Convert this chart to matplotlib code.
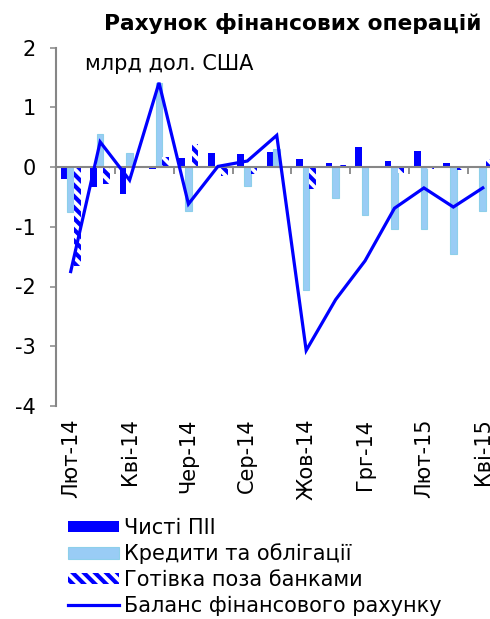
import matplotlib
matplotlib.use("Agg")
import matplotlib.pyplot as plt
from matplotlib.patches import Patch
from matplotlib.lines import Line2D
import numpy as np

months = ['Лют-14', 'Бер-14', 'Кві-14', 'Тра-14', 'Чер-14', 'Лип-14', 'Сер-14', 'Вер-14',
          'Жов-14', 'Лис-14', 'Грг-14', 'Січ-15', 'Лют-15', 'Бер-15', 'Кві-15']
fdi = [-0.20, -0.34, -0.46, -0.03, 0.15, 0.24, 0.21, 0.25, 0.14, 0.07, 0.34, 0.10, 0.27, 0.07, 0.01]
loans = [-0.76, 0.55, 0.23, 1.40, -0.73, 0.0, -0.31, 0.30, -2.06, -0.52, -0.81, -1.04, -1.04, -1.46, -0.74]
cash = [-1.65, -0.28, 0.0, 0.17, 0.38, -0.15, -0.12, 0.0, -0.36, 0.04, 0.0, -0.10, -0.03, -0.05, 0.13]
balance = [-1.75, 0.42, -0.22, 1.41, -0.62, 0.01, 0.10, 0.53, -3.07, -2.22, -1.57, -0.69, -0.35, -0.67, -0.35]

labels = ['Чисті ПІІ', 'Кредити та облігації', 'Готівка поза банками', 'Баланс фінансового рахунку']

plt.rcParams['font.family'] = ['DejaVu Sans']
plt.rcParams['axes.unicode_minus'] = False
plt.rcParams['hatch.linewidth'] = 3.0
plt.rcParams['hatch.color'] = '#0000FF'

BLUE = '#0000FF'
LIGHT = '#99CCF5'
LIGHT_EDGE = '#8DCFEA'
GRAY = '#868686'
FS = 15

fig = plt.figure(figsize=(4.9, 6.19), dpi=100)
ax = fig.add_axes([56/490, 1-406/619, (497.5-56)/490, (406-47.5)/619])

x = np.arange(len(months))
w = 0.225
ax.bar(x - w, fdi, w, color=BLUE, linewidth=0, zorder=2)
ax.bar(x, loans, w, color=LIGHT, edgecolor=LIGHT_EDGE, linewidth=0.8, zorder=2)
ax.bar(x + w, cash, w, color='white', edgecolor=BLUE, hatch='\\\\\\', linewidth=0, zorder=2)
ax.plot(x, balance, color=BLUE, lw=2.3, zorder=4, solid_joinstyle='miter')

ax.set_xlim(-0.5, len(months) - 0.5)
ax.set_ylim(-4, 2)
ax.set_yticks([-4, -3, -2, -1, 0, 1, 2])
ax.tick_params(axis='y', direction='out', length=4.3, width=1.1, color=GRAY,
               labelsize=FS, pad=10)

ax.set_xticks(x[::2])
ax.set_xticklabels(months[::2], rotation=90, fontsize=FS)
ax.tick_params(axis='x', length=0, pad=9)

for s in ['top', 'right', 'bottom']:
    ax.spines[s].set_visible(False)
ax.spines['left'].set_color(GRAY)
ax.spines['left'].set_linewidth(1.5)

sec = ax.secondary_xaxis(4/6)
bticks = np.arange(-0.5, len(months) - 0.5, 2)
sec.set_xticks(bticks, labels=[''] * len(bticks))
sec.tick_params(axis='x', direction='in', length=5, width=1.3, color=GRAY,
                labelbottom=False, labeltop=False)
for s in sec.spines.values():
    s.set_color(GRAY)
    s.set_linewidth(1.5)
sec.set_zorder(3)

ax.text(85/490, 1-70/619, 'млрд дол. США', transform=fig.transFigure,
        fontsize=FS, ha='left', va='baseline')
fig.text(293/490, 1-13/619, 'Рахунок фінансових операцій', fontsize=15.7,
         fontweight='bold', ha='center', va='top')

handles = [Patch(facecolor=BLUE, edgecolor=BLUE, linewidth=0),
           Patch(facecolor=LIGHT, edgecolor=LIGHT_EDGE, linewidth=0.8),
           Patch(facecolor='white', edgecolor=BLUE, hatch='\\\\\\', linewidth=0),
           Line2D([0], [0], color=BLUE, lw=2.3)]
fig.legend(handles, labels, loc='upper left', bbox_to_anchor=(68/490, 1-518/619),
           frameon=False, fontsize=FS, handlelength=2.45, handleheight=0.45,
           handletextpad=0.25, labelspacing=0.27, borderaxespad=0, borderpad=0)

fig.savefig('out.png', dpi=100)
